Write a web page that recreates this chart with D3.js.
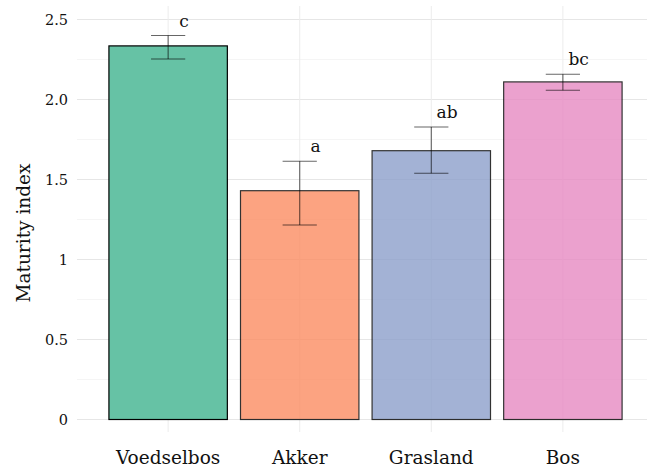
<!DOCTYPE html>
<html><head><meta charset="utf-8">
<script src="https://cdn.jsdelivr.net/npm/d3@7"></script>
<style>body{margin:0;background:#fff}svg{display:block}text{font-family:"DejaVu Serif",serif;fill:#111}</style>
</head><body><svg id="c" width="654" height="468"></svg>
<script>
const categories = ["Voedselbos","Akker","Grasland","Bos"];
const means = [2.335, 1.43, 1.68, 2.11];
const lower = [2.253, 1.216, 1.539, 2.058];
const upper = [2.40, 1.614, 1.828, 2.158];
const letters = ["c","a","ab","bc"];
const colors = ["#66c2a5","#fc8d62","#8da0cb","#e78ac3"];
const opacities = [1, 0.8, 0.8, 0.8];
const yTicks = [0, 0.5, 1, 1.5, 2, 2.5];
const yTickLabels = ["0","0.5","1","1.5","2.0","2.5"];
const yMinor = [0.25, 0.75, 1.25, 1.75, 2.25];

const svg = d3.select("#c");
const L = 77, R = 647, T = 6, B = 432;
const x = d3.scalePoint().domain(categories).range([L, R]).padding(0.666).align(0.52);
const y = d3.scaleLinear().domain([0, 2.5]).range([419.5, 19.5]);
const step = x.step();
const bw = step * 0.9;
const cap = step * 0.26;

const g = svg.append("g");
g.selectAll(".minor").data(yMinor).join("line")
  .attr("x1", L).attr("x2", R).attr("y1", d => y(d)).attr("y2", d => y(d))
  .attr("stroke", "#f2f2f2").attr("stroke-width", 0.8);
g.selectAll(".major").data(yTicks).join("line")
  .attr("x1", L).attr("x2", R).attr("y1", d => y(d)).attr("y2", d => y(d))
  .attr("stroke", "#e6e6e6").attr("stroke-width", 1);
g.selectAll(".vx").data(categories).join("line")
  .attr("x1", d => x(d)).attr("x2", d => x(d)).attr("y1", T).attr("y2", B)
  .attr("stroke", "#ececec").attr("stroke-width", 1);

// bars
g.selectAll(".bar").data(categories).join("rect")
  .attr("x", d => x(d) - bw/2).attr("width", bw)
  .attr("y", (d,i) => y(means[i])).attr("height", (d,i) => y(0) - y(means[i]))
  .attr("fill", (d,i) => colors[i]).attr("stroke", "#000").attr("stroke-width", 1.2)
  .attr("opacity", (d,i) => opacities[i]);

// error bars
const eb = g.selectAll(".eb").data(categories).join("g")
  .attr("stroke", "#000").attr("stroke-opacity", 0.6).attr("stroke-width", 1.1);
eb.append("line").attr("x1", d => x(d)).attr("x2", d => x(d))
  .attr("y1", (d,i) => y(lower[i])).attr("y2", (d,i) => y(upper[i]));
eb.append("line").attr("x1", d => x(d) - cap/2).attr("x2", d => x(d) + cap/2)
  .attr("y1", (d,i) => y(lower[i])).attr("y2", (d,i) => y(lower[i]));
eb.append("line").attr("x1", d => x(d) - cap/2).attr("x2", d => x(d) + cap/2)
  .attr("y1", (d,i) => y(upper[i])).attr("y2", (d,i) => y(upper[i]));

// letters
g.selectAll(".let").data(categories).join("text")
  .attr("x", d => x(d) + step * 0.12).attr("y", (d,i) => y(upper[i]) - 9)
  .attr("text-anchor", "middle").attr("font-size", 17).text((d,i) => letters[i]);

// y tick labels
g.selectAll(".yt").data(yTicks).join("text")
  .attr("x", 68).attr("y", d => y(d) + 5).attr("text-anchor", "end")
  .attr("font-size", 14.5).attr("fill", "#222").text((d,i) => yTickLabels[i]);

// x labels
g.selectAll(".xt").data(categories).join("text")
  .attr("x", d => x(d)).attr("y", 464).attr("text-anchor", "middle")
  .attr("font-size", 18.5).text(d => d);

// y title
svg.append("text").attr("transform", "translate(30,233) rotate(-90)")
  .attr("text-anchor", "middle").attr("font-size", 18.5).text("Maturity index");
</script></body></html>
